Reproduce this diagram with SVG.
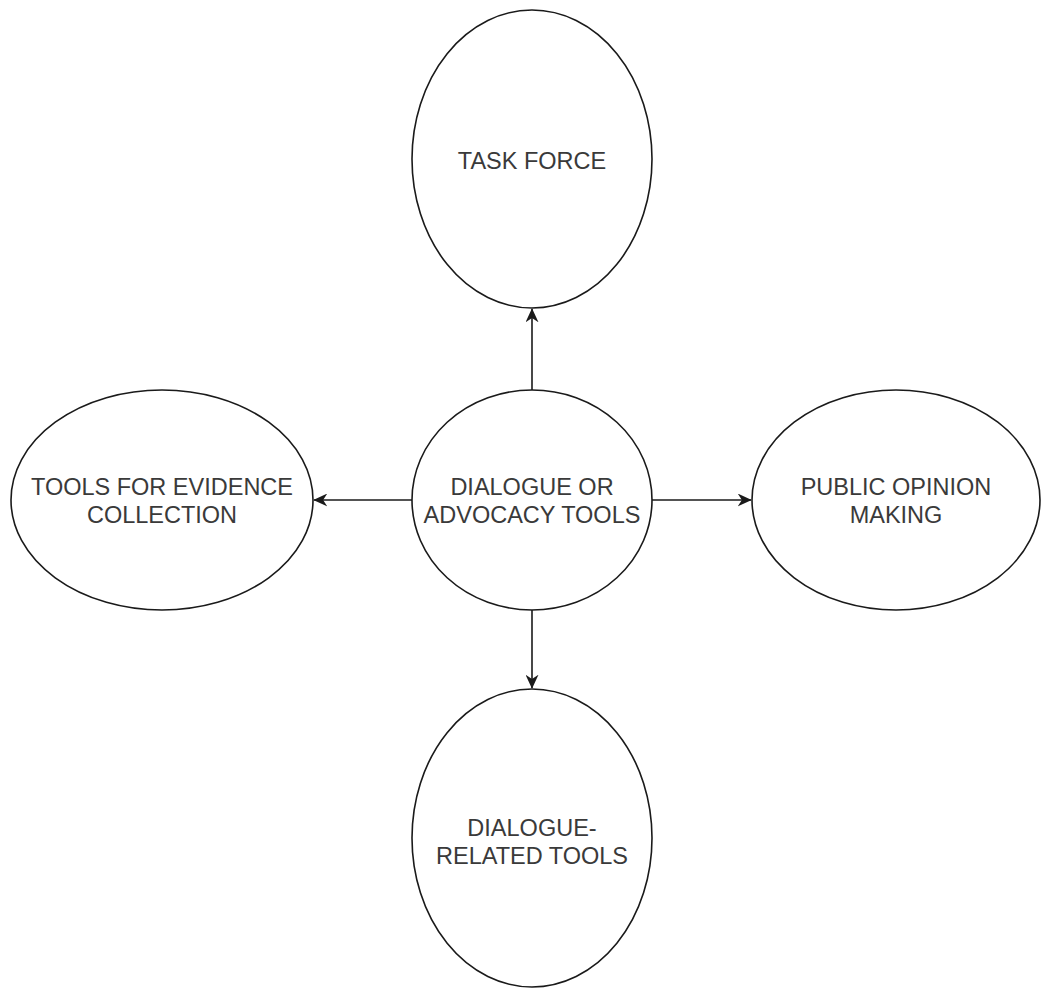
<svg xmlns="http://www.w3.org/2000/svg" width="1044" height="990" viewBox="0 0 1044 990">
<style>
.n{fill:#fff;stroke:#1a1a1a;stroke-width:1.6}
.t{font-family:"Liberation Sans",Arial,sans-serif;font-size:23.5px;fill:#3a3a3a;text-anchor:middle}
.c{stroke:#1a1a1a;stroke-width:1.6;fill:none;marker-end:url(#ah)}
</style>
<defs>
<marker id="ah" viewBox="0 0 10 10" refX="9.5" refY="5" markerWidth="14" markerHeight="13" markerUnits="userSpaceOnUse" orient="auto" preserveAspectRatio="none">
<path d="M0,0 L10,5 L0,10 L3,5 Z" fill="#1a1a1a"/>
</marker>
</defs>
<rect width="1044" height="990" fill="#fff"/>
<g id="connectors">
<line class="c" x1="532" y1="390" x2="532" y2="309"/>
<line class="c" x1="412" y1="500" x2="314" y2="500"/>
<line class="c" x1="652" y1="500" x2="751" y2="500"/>
<line class="c" x1="532" y1="610" x2="532" y2="688"/>
</g>
<g id="task-force">
<ellipse class="n" cx="532" cy="159" rx="120" ry="149"/>
<text class="t" x="532" y="169">TASK FORCE</text>
</g>
<g id="dialogue-advocacy">
<ellipse class="n" cx="532" cy="500" rx="120" ry="110"/>
<text class="t" x="532" y="495">DIALOGUE OR</text>
<text class="t" x="532" y="523">ADVOCACY TOOLS</text>
</g>
<g id="evidence">
<ellipse class="n" cx="162" cy="500" rx="151" ry="110"/>
<text class="t" x="162" y="495">TOOLS FOR EVIDENCE</text>
<text class="t" x="162" y="523">COLLECTION</text>
</g>
<g id="public-opinion">
<ellipse class="n" cx="896" cy="500" rx="144" ry="110"/>
<text class="t" x="896" y="495">PUBLIC OPINION</text>
<text class="t" x="896" y="523">MAKING</text>
</g>
<g id="dialogue-related">
<ellipse class="n" cx="532" cy="838" rx="120" ry="149"/>
<text class="t" x="532" y="836">DIALOGUE-</text>
<text class="t" x="532" y="864">RELATED TOOLS</text>
</g>
</svg>
